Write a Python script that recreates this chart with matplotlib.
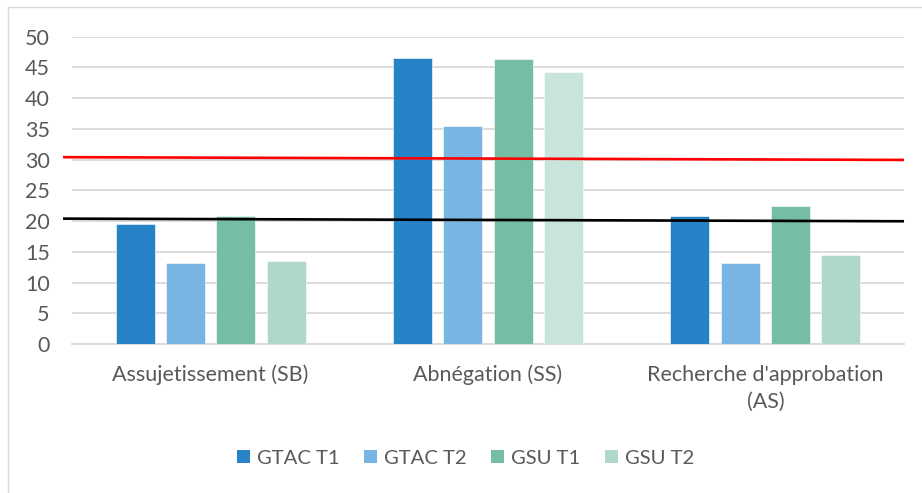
import matplotlib
matplotlib.use("Agg")
import matplotlib.pyplot as plt
from matplotlib.patches import Rectangle, Patch
import numpy as np

plt.rcParams['font.family'] = ['Lato', 'DejaVu Sans']

categories = ["Assujetissement (SB)", "Abnégation (SS)", "Recherche d'approbation\n(AS)"]
series_names = ["GTAC T1", "GTAC T2", "GSU T1", "GSU T2"]
gtac_t1 = [19.5, 46.5, 20.8]
gtac_t2 = [13.2, 35.5, 13.2]
gsu_t1 = [20.8, 46.3, 22.5]
gsu_t2 = [13.5, 44.3, 14.4]
values = [gtac_t1, gtac_t2, gsu_t1, gsu_t2]

# reference thresholds (start value, end value across the plot)
red_line = [30.4, 29.95]
black_line = [20.4, 19.97]

y_ticks = [0, 5, 10, 15, 20, 25, 30, 35, 40, 45, 50]

series_colors = ["#2783C7", "#78B5E2", "#76BDA6", "#AFD7CA"]
bar_colors = [
    ["#2783C7"] * 3,
    ["#78B5E2"] * 3,
    ["#76BDA6"] * 3,
    ["#AFD7CA", "#C9E4DA", "#AFD7CA"],
]

W, H = 922, 493
fig = plt.figure(figsize=(W / 100, H / 100), dpi=100)

# outer chart frame
fig.add_artist(Rectangle((8 / W, -0.05), 1.2, 1 - 7 / H + 0.05,
                         transform=fig.transFigure, fill=False,
                         edgecolor="#D9D9D9", linewidth=1.0))

ax = fig.add_axes([72 / W, 1 - 344 / H, (904 - 72) / W, (344 - 36.7) / H])

x = np.arange(len(categories))
step = 0.1815
width = 0.1406
for i, (vals, cols) in enumerate(zip(values, bar_colors)):
    ax.bar(x + (i - 1.5) * step, vals, width=width, color=cols, zorder=3,
           edgecolor="white", linewidth=0.4)

fs = 15.5
ax.set_xlim(-0.5, 2.5)
ax.set_ylim(0, 50)
ax.set_yticks(y_ticks)
ax.set_yticklabels([str(t) for t in y_ticks])
ax.set_xticks(x)
ax.set_xticklabels(categories)
for lbl in ax.get_xticklabels():
    lbl.set_linespacing(1.45)
ax.tick_params(axis="y", length=0, pad=16, labelsize=fs, labelcolor="#595959")
ax.tick_params(axis="x", length=0, pad=15, labelsize=fs, labelcolor="#595959")
ax.yaxis.grid(True, color="#D9D9D9", linewidth=1.3, zorder=0)
ax.set_axisbelow(True)
for side in ["top", "right", "left"]:
    ax.spines[side].set_visible(False)
ax.spines["bottom"].set_color("#D9D9D9")
ax.spines["bottom"].set_linewidth(1.3)

x0 = -0.5 - 9 / 277.3
ax.plot([x0, 2.5], red_line, color="#FF0000", linewidth=1.9, zorder=4, clip_on=False,
        solid_capstyle="butt")
ax.plot([x0, 2.5], black_line, color="#000000", linewidth=1.9, zorder=4, clip_on=False,
        solid_capstyle="butt")

handles = [Patch(facecolor=c, edgecolor="none") for c in series_colors]
fig.legend(handles, series_names, loc="center", bbox_to_anchor=(0.505, 1 - 458 / H),
           ncol=4, frameon=False, fontsize=14.6, labelcolor="#595959",
           handlelength=0.65, handleheight=0.65, handletextpad=0.35,
           columnspacing=1.2)

fig.savefig("out.png", dpi=100)
